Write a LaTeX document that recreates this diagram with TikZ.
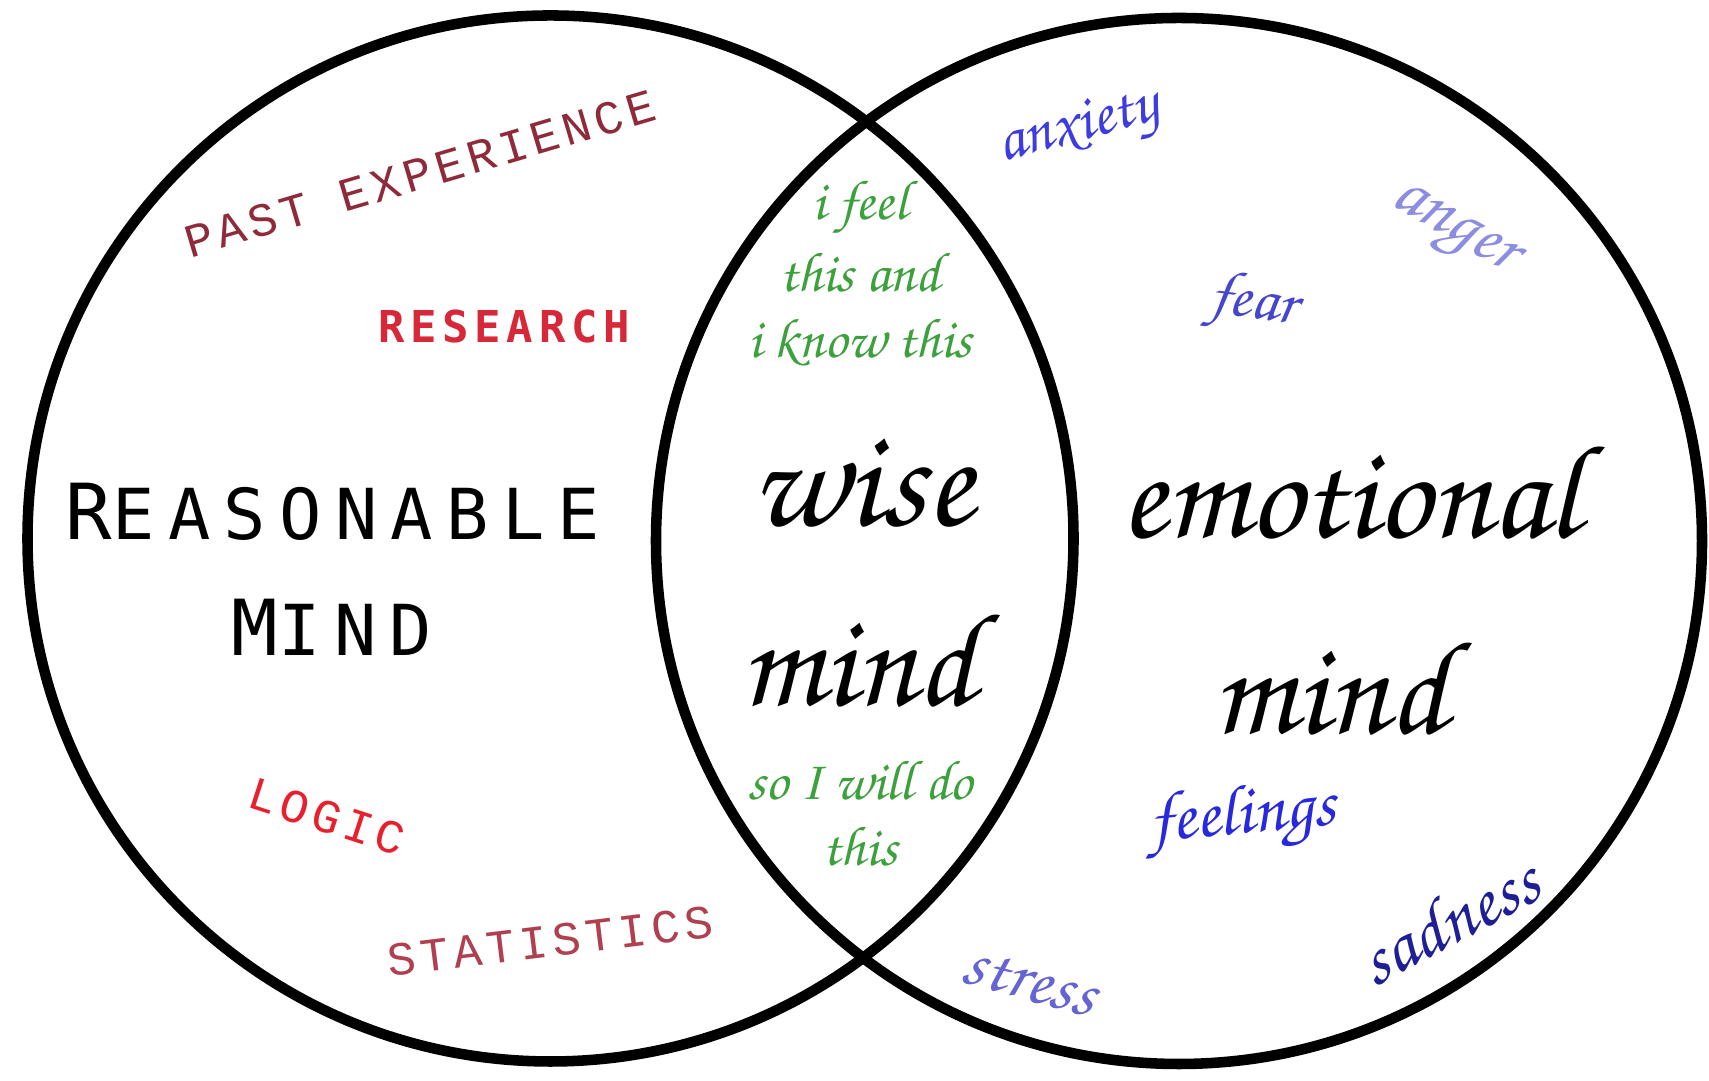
\documentclass[tikz,border=0pt]{standalone}
\usepackage[T1,TU]{fontenc}
\usepackage{fontspec}
\newfontfamily\typedfont[LetterSpace=10]{Liberation Mono}
\newfontfamily\stampfont[LetterSpace=13]{DejaVu Sans Mono}
\newfontfamily\plainfont[LetterSpace=19]{DejaVu Sans Mono}
\newcommand\scrawl[1]{\fontencoding{T1}\fontfamily{pzc}\fontseries{mb}\fontshape{it}\fontsize{#1}{#1}\selectfont}
\definecolor{pastred}{RGB}{142,42,58}
\definecolor{researchred}{RGB}{214,40,57}
\definecolor{logicred}{RGB}{232,32,46}
\definecolor{statred}{RGB}{176,64,79}
\definecolor{wisegreen}{RGB}{60,160,60}
\definecolor{anxietyblue}{RGB}{60,60,225}
\definecolor{fearblue}{RGB}{70,70,205}
\definecolor{angerblue}{RGB}{140,140,225}
\definecolor{feelblue}{RGB}{40,40,220}
\definecolor{stressblue}{RGB}{100,100,210}
\definecolor{sadblue}{RGB}{30,30,150}

\begin{document}
\begin{tikzpicture}[
            mindring/.style={draw, circle, line width=3pt, minimum size=10.46cm, inner sep=0pt},
            typed/.style={font=\typedfont\fontsize{13.5}{16}\selectfont},
            cursive/.style={font=\scrawl{#1}},
            ]
            \useasboundingbox (0,0) rectangle (17.09,10.81);

            \node[mindring] (reason) at (5.505,5.425) {};
            \node[mindring] (emotion) at (11.79,5.40) {};

            \node[typed, pastred, rotate=16.5] (past) at (4.20,9.07) {PAST EXPERIENCE};
            \node[researchred, font=\stampfont\bfseries\fontsize{12.5}{15}\selectfont] (research) at (5.04,7.54) {RESEARCH};
            \node[font=\plainfont\fontsize{20}{24}\selectfont] (reasonable) at (3.33,5.69) {{\fontsize{22}{24}\selectfont R}EASONABLE};
            \node[font=\plainfont\fontsize{20}{24}\selectfont] (mindleft) at (3.32,4.54) {{\fontsize{22}{24}\selectfont M}IND};
            \node[typed, logicred, rotate=-18] (logic) at (3.27,2.64) {LOGIC};
            \node[typed, statred, rotate=7] (statistics) at (5.50,1.40) {STATISTICS};

            \node[cursive=16, wisegreen, align=center] (feelknow) at (8.60,8.07) {i feel\\[3pt] this and\\[3pt] i know this};
            \node[cursive=40] (wise) at (8.62,5.98) {wise};
            \node[cursive=38] (mindwise) at (8.58,4.22) {mind};
            \node[cursive=16, wisegreen, align=center] (willdo) at (8.60,2.68) {so I will do\\[3pt] this};

            \node[cursive=18, anxietyblue, rotate=15] (anxiety) at (10.79,9.50) {anxiety};
            \node[cursive=20, angerblue, rotate=-30] (anger) at (14.50,8.47) {anger};
            \node[cursive=18, fearblue, rotate=-8] (fear) at (12.53,7.76) {fear};
            \node[cursive=38] (emotional) at (13.50,5.90) {emotional};
            \node[cursive=38] (mindemo) at (13.30,3.94) {mind};
            \node[cursive=20, feelblue, rotate=5] (feelings) at (12.43,2.62) {feelings};
            \node[cursive=20, stressblue, rotate=-15] (stress) at (10.30,1.00) {stress};
            \node[cursive=21, sadblue, rotate=28] (sadness) at (14.48,1.62) {sadness};
        \end{tikzpicture}
\end{document}
